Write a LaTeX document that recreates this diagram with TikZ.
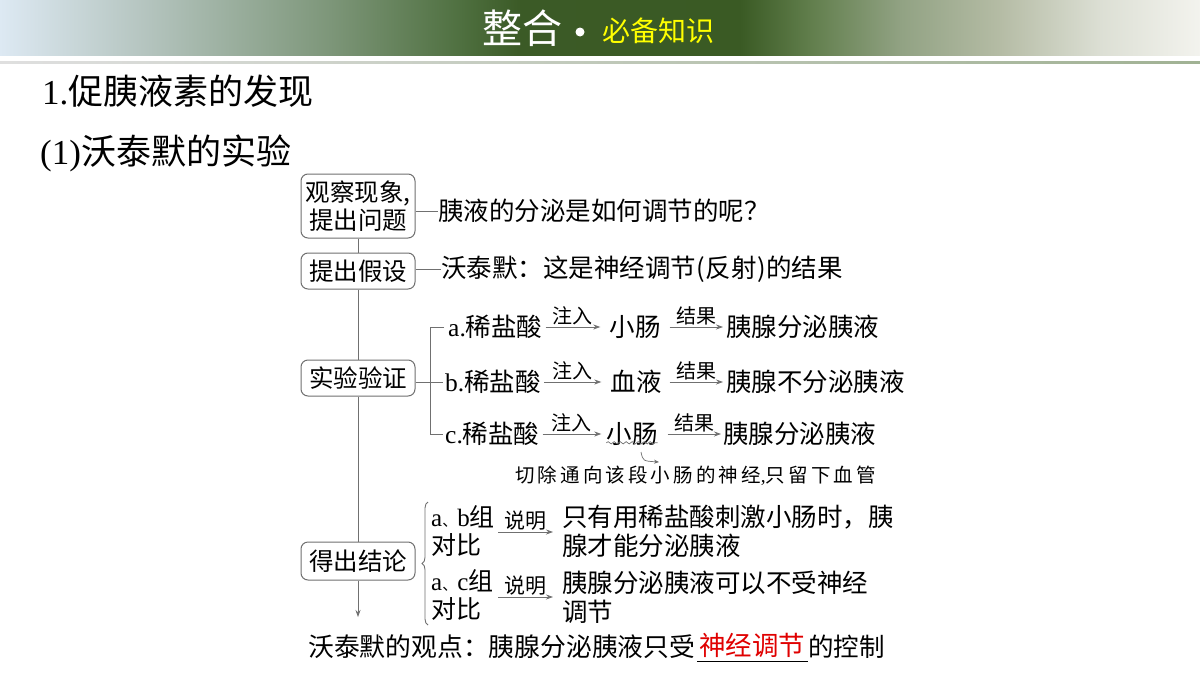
\documentclass[tikz,border=0pt]{standalone}
\usepackage{fontspec}
\setmainfont{Noto Sans CJK SC}
\newfontfamily\lat{Liberation Serif}
\newfontfamily\notefont[LetterSpace=16]{Noto Sans CJK SC}
\newcommand{\smdun}{{\fontsize{15}{28}\selectfont 、}}
\usetikzlibrary{arrows.meta,decorations.pathmorphing,decorations.pathreplacing,calc}
\definecolor{h0}{HTML}{DDE9F3}
\definecolor{h1}{HTML}{B3C3BD}
\definecolor{h2}{HTML}{7D9679}
\definecolor{h3}{HTML}{4F7040}
\definecolor{h4}{HTML}{3B5A26}
\definecolor{h5}{HTML}{3A5A24}
\definecolor{h6}{HTML}{617E4C}
\definecolor{h7}{HTML}{91A283}
\definecolor{h8}{HTML}{B5BCA5}
\definecolor{h9}{HTML}{DCDFD4}
\definecolor{h10}{HTML}{F3F3EE}
\definecolor{lg}{HTML}{707070}
\definecolor{ttl}{HTML}{FFFF00}
\definecolor{redt}{HTML}{E00000}
\tikzset{
  box/.style={draw=lg, rounded corners=7pt, line width=1pt, inner sep=3pt,
    font=\fontsize{24.5}{28}\selectfont, align=center, minimum width=114pt, text=black},
  txt/.style={font=\fontsize{25.5}{29}\selectfont, inner sep=0pt, anchor=west, text=black},
  lbl/.style={font=\fontsize{20}{22}\selectfont, inner sep=0pt, text=black},
  arr/.style={draw=lg, -{Stealth[length=7pt,width=5pt]}, line width=0.8pt},
  ln/.style={draw=lg, line width=0.9pt},
  head/.style={font=\fontsize{35}{38}\selectfont, inner sep=0pt, anchor=west, text=black}
}
\begin{document}
\begin{tikzpicture}[x=1pt,y=-1pt]
\useasboundingbox (0,0) rectangle (1200,675);
\fill[white] (0,0) rectangle (1200,675);
% header band
\foreach \xa/\xb/\ca/\cb in {0/150/h0/h1,150/330/h1/h2,330/460/h2/h3,460/520/h3/h4,520/740/h4/h5,740/810/h5/h6,810/900/h6/h7,900/1000/h7/h8,1000/1100/h8/h9,1100/1200/h9/h10}
  \shade[left color=\ca, right color=\cb] (\xa,0) rectangle (\xb+0.6,55);
\shade[left color=gray!25, right color=h6!60] (0,61) rectangle (1200,63);
\node[font=\fontsize{40}{44}\selectfont, text=white, inner sep=0pt] (ht) at (522,28) {整合};
\fill[white] (580,32) circle (4.5);
\node[font=\fontsize{28}{32}\selectfont, text=ttl, inner sep=0pt] (hs) at (658,31) {必备知识};
% headings
\node[head] (hd1) at (42,91) {{\lat 1.}促胰液素的发现};
\node[head] (hd2) at (40,153) {{\lat (1)}沃泰默的实验};
% boxes
\node[box, minimum height=64pt] (b1) at (358,206) {观察现象,\\提出问题};
\node[box, minimum height=36pt] (b2) at (358,271) {提出假设};
\node[box, minimum height=36pt] (b3) at (358,378) {实验验证};
\node[box, minimum height=38pt] (b4) at (358,561) {得出结论};
\coordinate (mend) at (358,617);
\draw[ln] (b1.south) -- (b2.north);
\draw[ln] (b2.south) -- (b3.north);
\draw[ln] (b3.south) -- (b4.north);
\draw[arr] (b4.south) -- (mend);
% question & hypothesis
\node[txt] (t1) at (438,211) {胰液的分泌是如何调节的呢？};
\draw[ln] (b1.east |- t1.west) -- (t1.west);
\node[txt] (t2) at (441,269) {沃泰默：这是神经调节({\kern1pt}反射{\kern1pt})的结果};
\draw[ln] (b2.east |- t2.west) -- (t2.west);
% experiments
\node[txt] (a1) at (448,327) {{\lat a.}稀盐酸};
\node[txt] (b1r) at (445,382) {{\lat b.}稀盐酸};
\node[txt] (c1) at (445,434) {{\lat c.}稀盐酸};
\coordinate (bt) at (430,327);
\coordinate (bb) at (430,434);
\draw[ln] (b3.east |- b1r.west) -- ([xshift=-2pt]b1r.west);
\draw[ln] ([xshift=-4pt]a1.west) -- (bt) -- (bb) -- ([xshift=-2pt]c1.west);
\node[txt, anchor=center] (a2) at (635,327) {小肠};
\node[txt, anchor=center] (b2r) at (636,382) {血液};
\node[txt, anchor=center] (c2) at (632,434) {小肠};
\node[txt] (a3) at (726,327) {胰腺分泌胰液};
\node[txt] (b3r) at (726,382) {胰腺不分泌胰液};
\node[txt] (c3) at (723,434) {胰腺分泌胰液};
\draw[arr] ([xshift=3pt]a1.east) -- ([xshift=-9pt]a2.west) node[lbl, midway, above=2pt] (la1) {注入};
\draw[arr] ([xshift=3pt]b1r.east) -- ([xshift=-9pt]b2r.west) node[lbl, midway, above=2pt] (lb1) {注入};
\draw[arr] ([xshift=3pt]c1.east) -- ([xshift=-5pt]c2.west) node[lbl, midway, above=2pt] (lc1) {注入};
\draw[arr] ([xshift=9pt]a2.east) -- ([xshift=-3pt]a3.west) node[lbl, midway, above=2pt] (la2) {结果};
\draw[arr] ([xshift=8pt]b2r.east) -- ([xshift=-3pt]b3r.west) node[lbl, midway, above=2pt] (lb2) {结果};
\draw[arr] ([xshift=10pt]c2.east) -- ([xshift=-2pt]c3.west) node[lbl, midway, above=2pt] (lc2) {结果};
\draw[draw=lg, line width=0.7pt, decorate, decoration={snake, amplitude=1.1pt, segment length=6pt}]
  ([yshift=3pt]c2.south west) -- ([yshift=3pt]c2.south east);
\node[font=\notefont\fontsize{19.5}{22}\selectfont, inner sep=0pt, anchor=west] (note) at (515,476) {切除通向该段小肠的神经{\lat ,}只留下血管};
\coordinate (ns) at (641,452);
\coordinate (ne) at (659,462);
\draw[draw=lg, line width=0.7pt, -{Stealth[length=5pt,width=4pt]}] (ns) .. controls (643,461) .. (ne);
% conclusions
\draw[ln, decorate, decoration={brace, amplitude=6pt}] (428,625) -- (428,502);
\node[txt, align=left, font=\fontsize{25}{28}\selectfont] (g1) at (431,531) {{\lat a}\smdun{\lat b}组\\对比};
\node[txt, align=left, font=\fontsize{25}{28}\selectfont] (g2) at (431,595) {{\lat a}\smdun{\lat c}组\\对比};
\node[txt, align=left, font=\fontsize{25.5}{29}\selectfont] (r1) at (562,531) {只有用稀盐酸刺激小肠时，胰\\腺才能分泌胰液};
\node[txt, align=left, font=\fontsize{25.5}{29}\selectfont] (r2) at (562,597) {胰腺分泌胰液可以不受神经\\调节};
\coordinate (s1) at (498,532);
\coordinate (s2) at (498,597);
\coordinate (e1) at (553,532);
\coordinate (e2) at (553,597);
\draw[arr] (s1) -- (e1) node[lbl, midway, above=1pt, font=\fontsize{21}{24}\selectfont] (l1) {说明};
\draw[arr] (s2) -- (e2) node[lbl, midway, above=1pt, font=\fontsize{21}{24}\selectfont] (l2) {说明};
% bottom line
\node[txt, font=\fontsize{25.8}{29}\selectfont] (v1) at (308,647) {沃泰默的观点：胰腺分泌胰液只受};
\node[txt, text=redt, font=\fontsize{26.5}{30}\selectfont] (v2) at (699,645) {神经调节};
\node[txt, font=\fontsize{25.5}{29}\selectfont] (v3) at (808,647) {的控制};
\coordinate (u1) at (697,661);
\coordinate (u2) at (808,661);
\draw[black, line width=1pt] (u1) -- (u2);
\end{tikzpicture}
\end{document}
